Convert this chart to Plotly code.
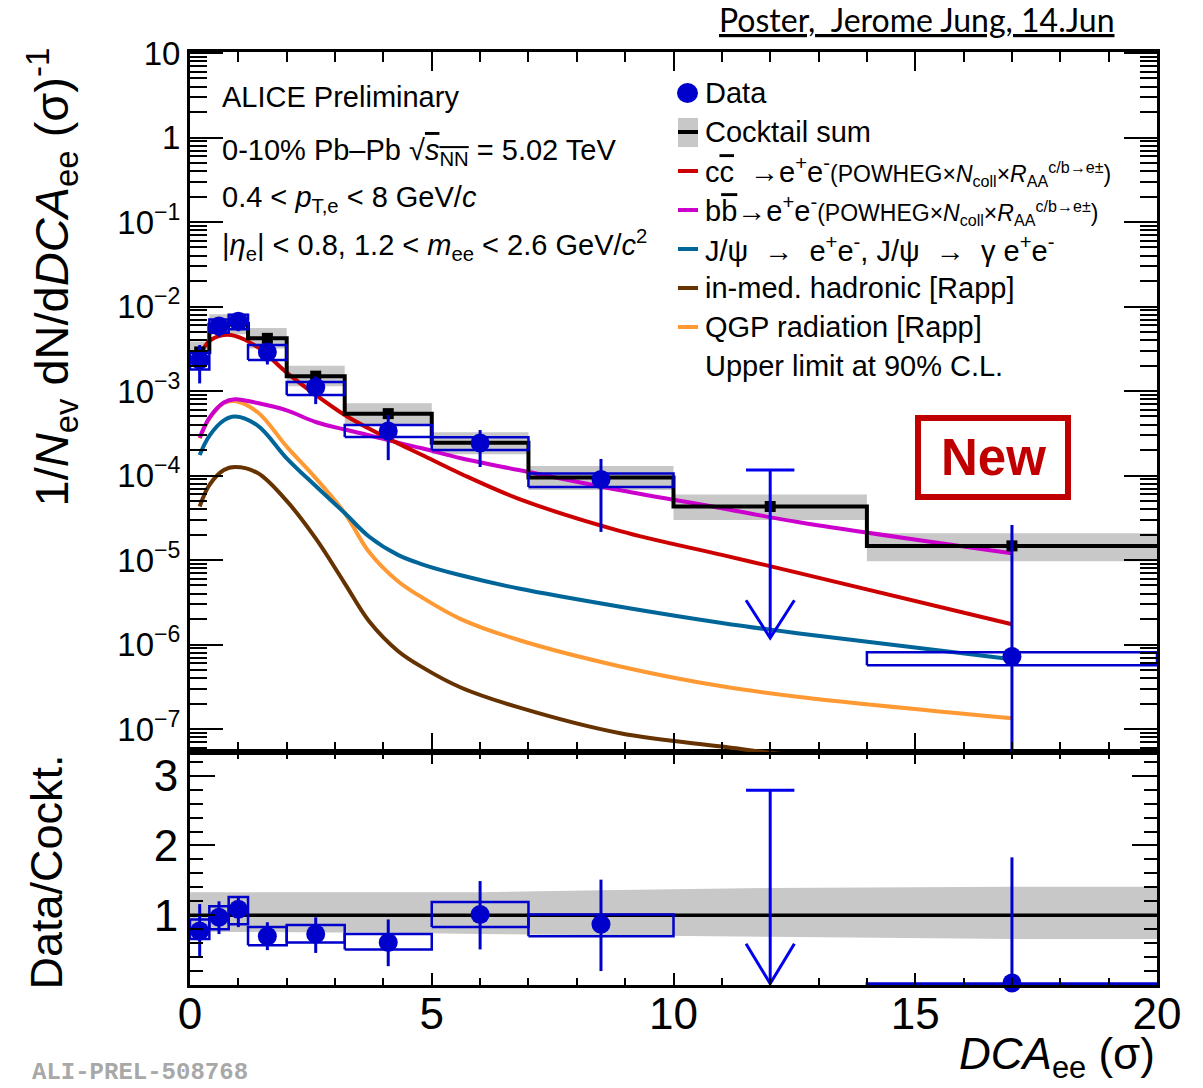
import numpy as np
import plotly.graph_objects as go

# ---------------- data ----------------
bin_edges = [0, 0.4, 0.8, 1.2, 2, 3.2, 5, 7, 10, 14, 20]
bin_centers = [0.2, 0.6, 1.0, 1.6, 2.6, 4.1, 6.0, 8.5, 12, 17]
cocktail = [2.9e-3, 6.1e-3, 6.2e-3, 4.2e-3, 1.5e-3, 5.4e-4, 2.45e-4, 9.5e-5, 4.3e-5, 1.47e-5]
cocktail_sys_hi_rel = [1.33, 1.33, 1.33, 1.33, 1.33, 1.33, 1.33, 1.36, 1.39, 1.41]
cocktail_sys_lo_rel = [0.76, 0.76, 0.76, 0.76, 0.76, 0.75, 0.73, 0.71, 0.69, 0.66]

data_x = [0.2, 0.6, 1.0, 1.6, 2.6, 4.1, 6.0, 8.5, 17]
data_bin_lo = [0, 0.4, 0.8, 1.2, 2, 3.2, 5, 7, 14]
data_bin_hi = [0.4, 0.8, 1.2, 2, 3.2, 5, 7, 10, 20]
data_y = [2.33e-3, 5.87e-3, 6.7e-3, 2.9e-3, 1.11e-3, 3.37e-4, 2.43e-4, 8.97e-5, 7.2e-7]
data_stat_lo = [1.23e-3, 4.4e-3, 5.1e-3, 2.06e-3, 7.0e-4, 1.52e-4, 1.26e-4, 2.15e-5, 1e-9]
data_stat_hi = [3.5e-3, 7.3e-3, 7.9e-3, 3.7e-3, 1.48e-3, 5.2e-4, 3.45e-4, 1.57e-4, 2.6e-5]
data_sys_lo = [1.8e-3, 4.9e-3, 5.4e-3, 2.33e-3, 9.0e-4, 2.85e-4, 2.0e-4, 7.3e-5, 5.7e-7]
data_sys_hi = [2.9e-3, 7.0e-3, 8.0e-3, 3.5e-3, 1.28e-3, 3.96e-4, 2.83e-4, 1.06e-4, 8.1e-7]

ul_x = 12
ul_value = 1.16e-4
ul_ratio = 2.79

ratio_y = [0.775, 0.97, 1.086, 0.70, 0.73, 0.61, 1.01, 0.87, 0.03]
ratio_stat_lo = [0.41, 0.73, 0.83, 0.50, 0.46, 0.27, 0.51, 0.20, 0.0]
ratio_stat_hi = [1.16, 1.20, 1.27, 0.90, 0.97, 0.94, 1.49, 1.51, 1.83]
ratio_sys_lo = [0.66, 0.80, 0.87, 0.57, 0.61, 0.51, 0.83, 0.70, 0.0]
ratio_sys_hi = [0.94, 1.13, 1.26, 0.83, 0.86, 0.73, 1.19, 1.01, 0.02]

curve_x = [0.2, 0.4, 0.7, 0.93, 1.4, 2.0, 2.6, 3.2, 3.7, 4.3, 4.8, 5.6, 6.8, 8.9, 11.0, 12.6, 17.0]
curve_ccbar = [2.6e-3, 3.9e-3, 4.6e-3, 4.5e-3, 3.3e-3, 1.65e-3, 9.0e-4, 5.2e-4, 3.6e-4, 2.4e-4,
               1.75e-4, 1.05e-4, 5.3e-5, 2.2e-5, 1.15e-5, 7.0e-6, 1.74e-6]
curve_bbbar = [2.8e-4, 4.8e-4, 7.3e-4, 8.0e-4, 7.2e-4, 5.9e-4, 4.3e-4, 3.5e-4, 3.0e-4, 2.45e-4,
               2.1e-4, 1.6e-4, 1.16e-4, 6.7e-5, 4.1e-5, 2.8e-5, 1.2e-5]
curve_jpsi = [1.75e-4, 2.95e-4, 4.5e-4, 5.0e-4, 3.9e-4, 1.6e-4, 7.5e-5, 3.6e-5, 1.9e-5, 1.15e-5,
              8.9e-6, 6.6e-6, 4.6e-6, 2.8e-6, 1.8e-6, 1.35e-6, 6.7e-7]
curve_hadronic = [4.3e-5, 7.7e-5, 1.16e-4, 1.26e-4, 1.07e-4, 5.0e-5, 1.8e-5, 5.3e-6, 1.9e-6, 8.4e-7,
                  5.4e-7, 3.1e-7, 1.8e-7, 8.9e-8, 6.2e-8, 4.8e-8, 3.0e-8]
curve_qgp = [2.75e-4, 4.7e-4, 7.2e-4, 7.6e-4, 5.6e-4, 2.2e-4, 9.3e-5, 3.6e-5, 1.25e-5, 5.6e-6,
             3.6e-6, 2.0e-6, 1.13e-6, 5.5e-7, 3.2e-7, 2.4e-7, 1.34e-7]

OVL = "<span style='text-decoration:overline'>%s</span>"
SMALL = "<span style='font-size:23px'>%s</span>"
legend_labels = [
    "Data",
    "Cocktail sum",
    "c" + OVL % "c" + "  →e<sup>+</sup>e<sup>-</sup>" + SMALL % "(POWHEG×<i>N</i><sub>coll</sub>×<i>R</i><sub>AA</sub><sup>c/b→e±</sup>)",
    "b" + OVL % "b" + "→e<sup>+</sup>e<sup>-</sup>" + SMALL % "(POWHEG×<i>N</i><sub>coll</sub>×<i>R</i><sub>AA</sub><sup>c/b→e±</sup>)",
    "J/ψ  →  e<sup>+</sup>e<sup>-</sup>, J/ψ  →  γ e<sup>+</sup>e<sup>-</sup>",
    "in-med. hadronic [Rapp]",
    "QGP radiation [Rapp]",
    "Upper limit at 90% C.L.",
]

# ---------------- style ----------------
W, H = 1203, 1088
L, R, T, B = 190, 1157, 52, 985
SPLIT = 752
FONT = "Liberation Sans, Arial, sans-serif"
BLUE = "#0000cc"
C_RED = "#cc0000"
C_MAG = "#cc00cc"
C_TEAL = "#006699"
C_BROWN = "#663300"
C_ORANGE = "#ff9933"
GRAY = "#c8c8c8"


def px(x):
    return (x - L) / (R - L)


def py(y):
    return (B - y) / (B - T)


split_frac = (B - SPLIT) / (B - T)

fig = go.Figure()

# ---------- upper panel ----------
bx, by = [], []
for i in range(len(cocktail)):
    lo = cocktail[i] * cocktail_sys_lo_rel[i]
    hi = cocktail[i] * cocktail_sys_hi_rel[i]
    x0, x1 = bin_edges[i], bin_edges[i + 1]
    bx += [x0, x1, x1, x0, x0, None]
    by += [lo, lo, hi, hi, lo, None]
fig.add_trace(go.Scatter(x=bx, y=by, mode="lines", fill="toself", fillcolor=GRAY,
                         line=dict(width=0), xaxis="x2", yaxis="y2", hoverinfo="skip"))

for yy, col in [(curve_hadronic, C_BROWN), (curve_qgp, C_ORANGE), (curve_jpsi, C_TEAL),
                (curve_bbbar, C_MAG), (curve_ccbar, C_RED)]:
    fig.add_trace(go.Scatter(x=curve_x, y=yy, mode="lines",
                             line=dict(color=col, width=4, shape="spline", smoothing=1.0),
                             xaxis="x2", yaxis="y2"))

fig.add_trace(go.Scatter(x=bin_edges, y=cocktail + [cocktail[-1]], mode="lines",
                         line=dict(color="black", width=4, shape="hv"),
                         xaxis="x2", yaxis="y2"))
fig.add_trace(go.Scatter(x=bin_centers, y=cocktail, mode="markers",
                         marker=dict(symbol="square", color="black", size=11),
                         xaxis="x2", yaxis="y2"))

sx, sy = [], []
for i in range(len(data_x)):
    x0, x1 = data_bin_lo[i], data_bin_hi[i]
    lo, hi = data_sys_lo[i], data_sys_hi[i]
    sx += [x0, x1, x1, x0, x0, None]
    sy += [lo, lo, hi, hi, lo, None]
fig.add_trace(go.Scatter(x=sx, y=sy, mode="lines", line=dict(color=BLUE, width=2.5),
                         xaxis="x2", yaxis="y2"))

fig.add_trace(go.Scatter(
    x=data_x, y=data_y, mode="markers",
    marker=dict(symbol="circle", color=BLUE, size=19),
    error_y=dict(type="data", symmetric=False,
                 array=[h - v for h, v in zip(data_stat_hi, data_y)],
                 arrayminus=[v - l for l, v in zip(data_stat_lo, data_y)],
                 color=BLUE, thickness=3, width=0),
    xaxis="x2", yaxis="y2"))

tip = ul_value * 0.0103
head = tip * 2.8
fig.add_trace(go.Scatter(
    x=[ul_x - 0.5, ul_x + 0.5, None, ul_x, ul_x, None, ul_x - 0.5, ul_x, ul_x + 0.5],
    y=[ul_value, ul_value, None, ul_value, tip, None, head, tip, head],
    mode="lines", line=dict(color="#0000ee", width=3), xaxis="x2", yaxis="y2"))

# ---------- lower panel ----------
band_x = [bin_edges[0]] + bin_centers + [bin_edges[-1]]
band_hi = [cocktail_sys_hi_rel[0]] + cocktail_sys_hi_rel + [cocktail_sys_hi_rel[-1]]
band_lo = [cocktail_sys_lo_rel[0]] + cocktail_sys_lo_rel + [cocktail_sys_lo_rel[-1]]
fig.add_trace(go.Scatter(x=band_x + band_x[::-1], y=band_hi + band_lo[::-1], mode="lines",
                         fill="toself", fillcolor=GRAY, line=dict(width=0),
                         xaxis="x", yaxis="y", hoverinfo="skip"))
fig.add_trace(go.Scatter(x=[bin_edges[0], bin_edges[-1]], y=[1, 1], mode="lines",
                         line=dict(color="black", width=3.5), xaxis="x", yaxis="y"))

rx, ry = [], []
for i in range(len(data_x)):
    x0, x1 = data_bin_lo[i], data_bin_hi[i]
    lo, hi = ratio_sys_lo[i], ratio_sys_hi[i]
    rx += [x0, x1, x1, x0, x0, None]
    ry += [lo, lo, hi, hi, lo, None]
fig.add_trace(go.Scatter(x=rx, y=ry, mode="lines", line=dict(color=BLUE, width=2.5),
                         xaxis="x", yaxis="y"))
fig.add_trace(go.Scatter(
    x=data_x, y=ratio_y, mode="markers",
    marker=dict(symbol="circle", color=BLUE, size=19),
    error_y=dict(type="data", symmetric=False,
                 array=[h - v for h, v in zip(ratio_stat_hi, ratio_y)],
                 arrayminus=[v - l for l, v in zip(ratio_stat_lo, ratio_y)],
                 color=BLUE, thickness=3, width=0),
    cliponaxis=False, xaxis="x", yaxis="y"))

rtip = 0.02
rhead = rtip + 0.57
fig.add_trace(go.Scatter(
    x=[ul_x - 0.5, ul_x + 0.5, None, ul_x, ul_x, None, ul_x - 0.5, ul_x, ul_x + 0.5],
    y=[ul_ratio, ul_ratio, None, ul_ratio, rtip, None, rhead, rtip, rhead],
    mode="lines", line=dict(color="#0000ee", width=3), xaxis="x", yaxis="y"))

# ---------- axes ----------
ytick_vals = [10.0 ** k for k in range(-7, 2)]
ytick_text = []
for k in range(-7, 2):
    if k == 0:
        ytick_text.append("1")
    elif k == 1:
        ytick_text.append("10")
    else:
        ytick_text.append("10<sup>−%d</sup>" % (-k))
ymin_vals = [m * 10.0 ** k for k in range(-8, 2) for m in range(2, 10)]

axis_common = dict(showline=True, linecolor="black", linewidth=3, mirror="allticks",
                   ticks="inside", tickcolor="black", showgrid=False, zeroline=False)

fig.update_layout(
    width=W, height=H,
    margin=dict(l=L, r=W - R, t=T, b=H - B),
    paper_bgcolor="white", plot_bgcolor="white",
    showlegend=False,
    font=dict(family=FONT, color="black"),
    xaxis=dict(domain=[0, 1], range=[0, 20], anchor="y",
               tickvals=[0, 5, 10, 15, 20], ticktext=["0", "5", "10", "15", "20"],
               ticklen=12, tickwidth=2, ticklabelstandoff=-12,
               minor=dict(ticks="inside", dtick=1, ticklen=7, tickwidth=2, tickcolor="black"),
               tickfont=dict(size=44, family=FONT), **axis_common),
    yaxis=dict(domain=[0, split_frac], range=[0, 3.34], anchor="x",
               tickvals=[1, 2, 3], ticktext=["1", "2", "3"], ticklen=25, tickwidth=2,
               minor=dict(ticks="inside", dtick=0.2, ticklen=13, tickwidth=2, tickcolor="black"),
               tickfont=dict(size=44, family=FONT), **axis_common),
    xaxis2=dict(domain=[0, 1], range=[0, 20], anchor="y2", matches="x",
                tickvals=[0, 5, 10, 15, 20], showticklabels=False, ticklen=19, tickwidth=2,
                minor=dict(ticks="inside", dtick=1, ticklen=10, tickwidth=2, tickcolor="black"),
                **axis_common),
    yaxis2=dict(domain=[split_frac, 1], type="log", range=[-7.272, 1.012], anchor="x2",
                tickvals=ytick_vals, ticktext=ytick_text, ticklen=33, tickwidth=2,
                minor=dict(ticks="inside", tickmode="array", tickvals=ymin_vals, ticklen=17,
                           tickwidth=2, tickcolor="black"),
                tickfont=dict(size=33, family=FONT), **axis_common),
)

# ---------- text ----------
ann = []


def text(x, y, s, size=29, xanchor="left", yanchor="middle", color="black", family=FONT,
         angle=0):
    ann.append(dict(x=px(x), y=py(y), xref="paper", yref="paper", text=s, showarrow=False,
                    xanchor=xanchor, yanchor=yanchor, textangle=angle,
                    font=dict(size=size, color=color, family=family)))


text(220, 97, "ALICE Preliminary")
text(220, 152, "0-10% Pb–Pb √" + OVL % "<i>s</i>" + "<sub>" + OVL % "NN" + "</sub> = 5.02 TeV")
text(220, 199, "0.4 < <i>p</i><sub>T,e</sub> < 8 GeV/<i>c</i>")
text(220, 245, "|<i>η</i><sub>e</sub>| < 0.8, 1.2 < <i>m</i><sub>ee</sub> < 2.6 GeV/<i>c</i><sup>2</sup>")

leg_y = [93, 132, 171, 210, 249, 288, 327, 366]
for yv, lab in zip(leg_y, legend_labels):
    text(703, yv, lab, size=29)

# axis titles
text(52, 46, "1/<i>N</i><sub>ev</sub> dN/d<i>DCA</i><sub>ee</sub> (σ)<sup>-1</sup>", size=47,
     xanchor="center", yanchor="top", angle=-90)
text(46, 753, "Data/Cockt.", size=45, xanchor="center", yanchor="top", angle=-90)
text(1157, 1057, "<i>DCA</i><sub>ee</sub> (σ)", size=44, xanchor="right")

text(1117, 20, "<u>Poster,  Jerome Jung, 14.Jun</u>", size=32, xanchor="right",
     family="Lato, Open Sans, sans-serif")
text(30, 1072, "<b>ALI-PREL-508768</b>", size=24, color="#a8a8a8",
     family="Liberation Mono, DejaVu Sans Mono, monospace")
text(993, 457, "<b>New</b>", size=51, xanchor="center", color="#c00000")

fig.update_layout(annotations=ann)

# ---------- legend symbols & New box ----------
shapes = []
shapes.append(dict(type="rect", xref="paper", yref="paper", x0=px(918), x1=px(1068),
                   y0=py(497), y1=py(418), line=dict(color="#c00000", width=6)))
shapes.append(dict(type="circle", xref="paper", yref="paper", x0=px(677), x1=px(698),
                   y0=py(103), y1=py(83), fillcolor=BLUE, line=dict(width=0)))
shapes.append(dict(type="rect", xref="paper", yref="paper", x0=px(678), x1=px(698),
                   y0=py(147), y1=py(118), fillcolor=GRAY, line=dict(width=0)))
shapes.append(dict(type="line", xref="paper", yref="paper", x0=px(678), x1=px(698),
                   y0=py(132), y1=py(132), line=dict(color="black", width=4)))
for yv, col in zip(leg_y[2:7], [C_RED, C_MAG, C_TEAL, C_BROWN, C_ORANGE]):
    shapes.append(dict(type="line", xref="paper", yref="paper", x0=px(678), x1=px(698),
                       y0=py(yv), y1=py(yv), line=dict(color=col, width=4)))
fig.update_layout(shapes=shapes)

fig.write_html("out.html")
